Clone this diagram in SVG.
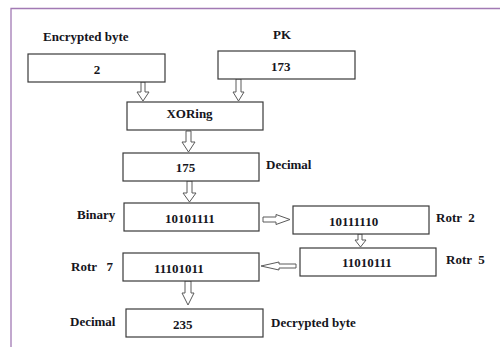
<svg xmlns="http://www.w3.org/2000/svg" width="500" height="347" viewBox="0 0 500 347">
<style>
.box{fill:#fff;stroke:#3a3a3a;stroke-width:1.2}
.t{font-family:"Liberation Serif","Times New Roman",serif;font-weight:bold;font-size:13px;fill:#151520;white-space:pre}
.m{text-anchor:middle}
.arr{fill:#fff;stroke:#5a5a5a;stroke-width:1}
.frame{fill:none;stroke:#a27ab4;stroke-width:1.3}
</style>
<rect x="0" y="0" width="500" height="347" fill="#fff"/>
<path class="frame" d="M11,347 V8.5 H500"/>
<g id="connectors">
<polygon class="arr" points="141,82 145,82 145,92 149,92 143,101 137,92 141,92"/>
<polygon class="arr" points="236,79 241,79 241,92 244,92 238.5,101 233,92 236,92"/>
<polygon class="arr" points="186,131 191,131 191,142 195,142 188.5,152 182,142 186,142"/>
<polygon class="arr" points="187,181 192,181 192,193 196,193 189.5,202 183,193 187,193"/>
<polygon class="arr" points="263,217 276,217 276,214.5 290,219.5 276,224.5 276,222 263,222"/>
<polygon class="arr" points="358,234 362,234 362,240 366,240 360.5,247 355,240 358,240"/>
<polygon class="arr" points="296,264 279,264 279,262 261,266 279,270 279,268 296,268"/>
<polygon class="arr" points="185,281 191,281 191,293 194,293 188,305 182,293 185,293"/>
</g>
<g id="encrypted">
<text class="t" x="43" y="41">Encrypted byte</text>
<rect class="box" x="28" y="54" width="137" height="28"/>
<text class="t m" x="97" y="74">2</text>
</g>
<g id="pk">
<text class="t" x="273" y="39">PK</text>
<rect class="box" x="218" y="51" width="137" height="28"/>
<text class="t" x="271" y="71">173</text>
</g>
<g id="xoring">
<rect class="box" x="127" y="102" width="136" height="28"/>
<text class="t m" x="189.5" y="118">XORing</text>
</g>
<g id="dec175">
<rect class="box" x="123" y="153" width="136" height="28"/>
<text class="t m" x="185.5" y="172">175</text>
<text class="t" x="266" y="169">Decimal</text>
</g>
<g id="binary">
<text class="t" x="77" y="219">Binary</text>
<rect class="box" x="124" y="203" width="135" height="28"/>
<text class="t" x="165" y="223">10101111</text>
</g>
<g id="rotr2">
<rect class="box" x="293" y="206" width="136" height="28"/>
<text class="t" x="329" y="226">10111110</text>
<text class="t" x="436" y="222">Rotr  2</text>
</g>
<g id="rotr5">
<rect class="box" x="300" y="248" width="136" height="28"/>
<text class="t" x="342" y="267">11010111</text>
<text class="t" x="446" y="264">Rotr  5</text>
</g>
<g id="rotr7">
<text class="t" x="71" y="271">Rotr   7</text>
<rect class="box" x="123" y="253" width="136" height="28"/>
<text class="t" x="154" y="273">11101011</text>
</g>
<g id="decrypted">
<text class="t" x="70" y="326">Decimal</text>
<rect class="box" x="126" y="309" width="137" height="28"/>
<text class="t" x="173" y="329">235</text>
<text class="t" x="271" y="327">Decrypted byte</text>
</g>
</svg>
